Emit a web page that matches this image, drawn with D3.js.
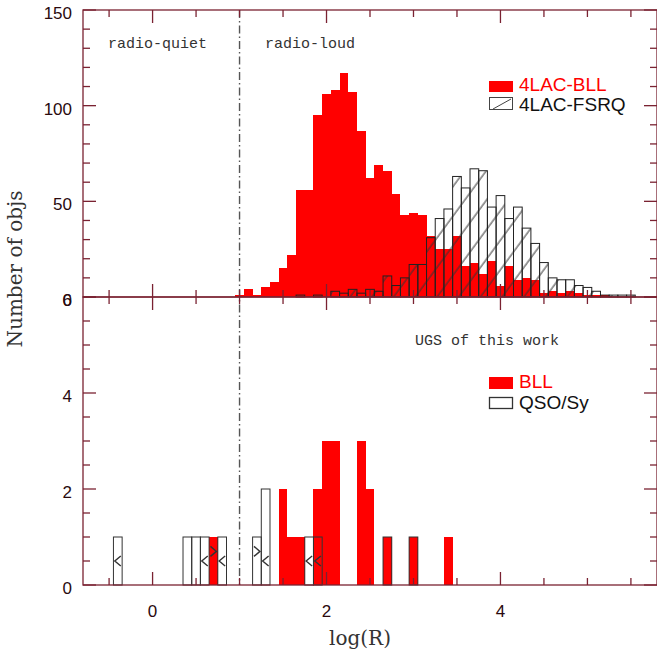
<!DOCTYPE html>
<html>
<head>
<meta charset="utf-8">
<script src="https://cdn.jsdelivr.net/npm/d3@7"></script>
<style>
  body { margin: 0; background: #fff; }
  svg { display: block; }
</style>
</head>
<body>
<svg id="chart" width="657" height="657"></svg>
<script>
// histogram bins (bin centres in log(R), width 0.1)
const bin_width = 0.1;

// top panel: 4LAC samples
const lac_bll_logR = [1.0, 1.1, 1.2, 1.3, 1.4, 1.5, 1.6, 1.7, 1.8, 1.9, 2.0, 2.1, 2.2, 2.3, 2.4, 2.5, 2.6, 2.7, 2.8, 2.9,
  3.0, 3.1, 3.2, 3.3, 3.4, 3.5, 3.6, 3.7, 3.8, 3.9, 4.0, 4.1, 4.2, 4.3, 4.4, 4.5, 4.6, 4.7, 4.8, 4.9, 5.0, 5.1, 5.2];
const lac_bll_counts = [1, 4, 1, 5, 8, 15, 22, 56, 56, 95, 106, 108, 117, 107, 87, 62, 69, 66, 54, 43,
  44, 43, 32, 25, 25, 32, 16, 18, 12, 19, 6, 16, 9, 10, 9, 2, 3, 2, 3, 2, 1, 1, 1];

const lac_fsrq_logR = [1.7, 1.9, 2.1, 2.2, 2.3, 2.4, 2.5, 2.6, 2.7, 2.8, 2.9, 3.0, 3.1, 3.2, 3.3, 3.4, 3.5, 3.6, 3.7, 3.8,
  3.9, 4.0, 4.1, 4.2, 4.3, 4.4, 4.5, 4.6, 4.7, 4.8, 4.9, 5.0, 5.1, 5.2, 5.3, 5.4, 5.5];
const lac_fsrq_counts = [1, 1, 3, 2, 4, 2, 4, 3, 11, 6, 10, 17, 17, 31, 41, 46, 63, 57, 67, 66,
  47, 53, 41, 47, 36, 28, 18, 10, 9, 9, 6, 5, 3, 1, 1, 1, 1];

// bottom panel: UGS of this work
const ugs_bll_logR = [0.7, 1.5, 1.6, 1.7, 1.9, 2.0, 2.1, 2.4, 2.5, 2.7, 3.0, 3.4];
const ugs_bll_counts = [1, 2, 1, 1, 2, 3, 3, 3, 2, 1, 1, 1];
const ugs_qso_logR = [-0.4, 0.4, 0.5, 0.6, 0.8, 1.2, 1.3, 1.8, 1.9, 2.7, 3.0];
const ugs_qso_counts = [1, 1, 1, 1, 1, 1, 2, 1, 1, 1, 1];

// limit markers drawn inside the bins
const ugs_limit_logR = [-0.4, 0.6, 0.7, 0.8, 1.2, 1.3, 1.8, 1.9];
const ugs_limit_level = [0.5, 0.5, 0.7, 0.5, 0.7, 0.5, 0.5, 0.5];
const ugs_limit_dir = ['<', '<', '>', '<', '>', '<', '<', '<'];

// axis ticks
const x_major_ticks = [0, 2, 4];
const x_tick_labels = ['0', '2', '4'];
const top_y_major = [0, 50, 100, 150];
const top_y_labels = ['0', '50', '100', '150'];
const bot_y_major = [0, 2, 4, 6];
const bot_y_labels = ['0', '2', '4', '6'];

const radio_split = 1.0;

// 1. Scales
const svg = d3.select('#chart');
const x = d3.scaleLinear().domain([-0.8, 5.8]).range([83, 657]);
const y_top = d3.scaleLinear().domain([0, 150]).range([297, 10]);
const y_bot = d3.scaleLinear().domain([0, 6]).range([585, 297]);

const axis_color = '#7a2232';
const label_color = '#2a0a0e';
const major_len = 13;
const minor_len = 7;

// hatch pattern for the FSRQ histogram
const defs = svg.append('defs');
const hatch = defs.append('pattern')
  .attr('id', 'hatch')
  .attr('patternUnits', 'userSpaceOnUse')
  .attr('width', 17.5)
  .attr('height', 17.5)
  .attr('patternTransform', 'rotate(36.3)');
hatch.append('line')
  .attr('x1', 3).attr('x2', 3)
  .attr('y1', -1).attr('y2', 18.5)
  .attr('stroke', '#333')
  .attr('stroke-width', 1);

const to_bins = (centres, counts) => centres.map((c, i) => ({ x0: c - bin_width / 2, x1: c + bin_width / 2, n: counts[i] }));

// 2. Top panel bars
const g_top = svg.append('g');
g_top.selectAll('rect.bll')
  .data(to_bins(lac_bll_logR, lac_bll_counts))
  .enter()
  .append('rect')
  .attr('class', 'bll')
  .attr('x', d => x(d.x0))
  .attr('width', d => x(d.x1) - x(d.x0))
  .attr('y', d => y_top(d.n))
  .attr('height', d => y_top(0) - y_top(d.n))
  .attr('fill', '#ff0000')
  .attr('shape-rendering', 'crispEdges');

g_top.selectAll('rect.fsrq')
  .data(to_bins(lac_fsrq_logR, lac_fsrq_counts))
  .enter()
  .append('rect')
  .attr('class', 'fsrq')
  .attr('x', d => x(d.x0))
  .attr('width', d => x(d.x1) - x(d.x0))
  .attr('y', d => y_top(d.n))
  .attr('height', d => y_top(0) - y_top(d.n))
  .attr('fill', 'url(#hatch)')
  .attr('stroke', '#222')
  .attr('stroke-width', 1);

// 3. Bottom panel bars
const g_bot = svg.append('g');
g_bot.selectAll('rect.bll')
  .data(to_bins(ugs_bll_logR, ugs_bll_counts))
  .enter()
  .append('rect')
  .attr('class', 'bll')
  .attr('x', d => x(d.x0))
  .attr('width', d => x(d.x1) - x(d.x0))
  .attr('y', d => y_bot(d.n))
  .attr('height', d => y_bot(0) - y_bot(d.n))
  .attr('fill', '#ff0000')
  .attr('shape-rendering', 'crispEdges');

g_bot.selectAll('rect.qso')
  .data(to_bins(ugs_qso_logR, ugs_qso_counts))
  .enter()
  .append('rect')
  .attr('class', 'qso')
  .attr('x', d => x(d.x0))
  .attr('width', d => x(d.x1) - x(d.x0))
  .attr('y', d => y_bot(d.n))
  .attr('height', d => y_bot(0) - y_bot(d.n))
  .attr('fill', 'none')
  .attr('stroke', '#333')
  .attr('stroke-width', 1);

// limit chevrons
g_bot.selectAll('path.limit')
  .data(ugs_limit_logR.map((v, i) => ({ v, lvl: ugs_limit_level[i], dir: ugs_limit_dir[i] })))
  .enter()
  .append('path')
  .attr('class', 'limit')
  .attr('d', d => {
    const cx = x(d.v), cy = y_bot(d.lvl);
    const s = d.dir === '<' ? 1 : -1;
    return `M${cx + 3 * s},${cy - 5} L${cx - 3 * s},${cy} L${cx + 3 * s},${cy + 5}`;
  })
  .attr('fill', 'none')
  .attr('stroke', '#333')
  .attr('stroke-width', 1.4);

// 4. Radio-quiet / radio-loud divider
svg.append('line')
  .attr('x1', x(radio_split)).attr('x2', x(radio_split))
  .attr('y1', y_top(150)).attr('y2', y_bot(0))
  .attr('stroke', '#555')
  .attr('stroke-width', 1.4)
  .attr('stroke-dasharray', '8,3,1.5,3');

// 5. Frames and ticks
function draw_panel(y, y_major, y_minor_step) {
  const g = svg.append('g');
  const [y0, y1] = y.range();
  const [xa, xb] = x.range();
  const [d0, d1] = y.domain();

  g.append('rect')
    .attr('x', xa).attr('y', y1)
    .attr('width', xb - xa).attr('height', y0 - y1)
    .attr('fill', 'none')
    .attr('stroke', axis_color)
    .attr('stroke-width', 1.3);

  const y_minor = d3.range(d0, d1 + 1e-9, y_minor_step).filter(v => !y_major.some(m => Math.abs(m - v) < 1e-9));
  const y_ticks = y_major.map(v => ({ v, len: major_len })).concat(y_minor.map(v => ({ v, len: minor_len })));
  y_ticks.forEach(t => {
    g.append('line').attr('x1', xa).attr('x2', xa + t.len).attr('y1', y(t.v)).attr('y2', y(t.v))
      .attr('stroke', axis_color).attr('stroke-width', 1.3);
    g.append('line').attr('x1', xb).attr('x2', xb - t.len).attr('y1', y(t.v)).attr('y2', y(t.v))
      .attr('stroke', axis_color).attr('stroke-width', 1.3);
  });

  const x_minor = d3.range(-0.5, 5.51, 0.5).filter(v => !x_major_ticks.includes(v));
  const x_ticks = x_major_ticks.map(v => ({ v, len: major_len })).concat(x_minor.map(v => ({ v, len: minor_len })));
  x_ticks.forEach(t => {
    g.append('line').attr('x1', x(t.v)).attr('x2', x(t.v)).attr('y1', y0).attr('y2', y0 - t.len)
      .attr('stroke', axis_color).attr('stroke-width', 1.3);
    g.append('line').attr('x1', x(t.v)).attr('x2', x(t.v)).attr('y1', y1).attr('y2', y1 + t.len)
      .attr('stroke', axis_color).attr('stroke-width', 1.3);
  });
  return g;
}

draw_panel(y_top, top_y_major, 10);
draw_panel(y_bot, bot_y_major, 0.5);

// tick labels
const tick_font = { family: "'Liberation Sans', Arial, sans-serif", size: 17 };
function y_labels(y, values, labels) {
  svg.append('g').selectAll('text')
    .data(values)
    .enter()
    .append('text')
    .attr('x', 72)
    .attr('y', d => y(d) + 9)
    .attr('text-anchor', 'end')
    .attr('font-family', tick_font.family)
    .attr('font-size', tick_font.size)
    .attr('fill', label_color)
    .text((d, i) => labels[i]);
}
y_labels(y_top, top_y_major, top_y_labels);
y_labels(y_bot, bot_y_major, bot_y_labels);

svg.append('g').selectAll('text')
  .data(x_major_ticks)
  .enter()
  .append('text')
  .attr('x', d => x(d))
  .attr('y', 617)
  .attr('text-anchor', 'middle')
  .attr('font-family', tick_font.family)
  .attr('font-size', tick_font.size)
  .attr('fill', label_color)
  .text((d, i) => x_tick_labels[i]);

// 6. Axis titles
svg.append('text')
  .attr('x', 360).attr('y', 645)
  .attr('text-anchor', 'middle')
  .attr('font-family', "'DejaVu Serif', serif")
  .attr('font-size', 20)
  .attr('fill', '#333')
  .text('log(R)');

svg.append('text')
  .attr('transform', 'translate(22,269) rotate(-90)')
  .attr('text-anchor', 'middle')
  .attr('font-family', "'DejaVu Serif', serif")
  .attr('font-size', 20)
  .attr('fill', '#333')
  .text('Number of objs');

// 7. Annotations
const mono = "'Liberation Mono', 'Courier New', monospace";
[['radio-quiet', 108, 48], ['radio-loud', 265, 48], ['UGS of this work', 415, 345]].forEach(([t, tx, ty]) => {
  svg.append('text')
    .attr('x', tx).attr('y', ty)
    .attr('font-family', mono)
    .attr('font-size', 15)
    .attr('fill', '#333')
    .text(t);
});

// 8. Legends
const legend_font = "'Liberation Sans', Arial, sans-serif";
function legend_text(t, ty, color) {
  svg.append('text')
    .attr('x', 519).attr('y', ty)
    .attr('font-family', legend_font)
    .attr('font-size', 19)
    .attr('fill', color)
    .text(t);
}
svg.append('rect').attr('x', 489).attr('y', 81).attr('width', 24).attr('height', 11).attr('fill', '#ff0000');
legend_text('4LAC-BLL', 91, '#ff0000');
svg.append('rect').attr('x', 489.5).attr('y', 97.5).attr('width', 23).attr('height', 12)
  .attr('fill', '#fff').attr('stroke', '#444').attr('stroke-width', 1);
svg.append('line').attr('x1', 493).attr('y1', 109).attr('x2', 511).attr('y2', 99)
  .attr('stroke', '#444').attr('stroke-width', 1);
legend_text('4LAC-FSRQ', 111, '#111');

svg.append('rect').attr('x', 489).attr('y', 377).attr('width', 24).attr('height', 12).attr('fill', '#ff0000');
legend_text('BLL', 388, '#ff0000');
svg.append('rect').attr('x', 489.5).attr('y', 397.5).attr('width', 23).attr('height', 11)
  .attr('fill', '#fff').attr('stroke', '#333').attr('stroke-width', 1.3);
legend_text('QSO/Sy', 409, '#111');
</script>
</body>
</html>
